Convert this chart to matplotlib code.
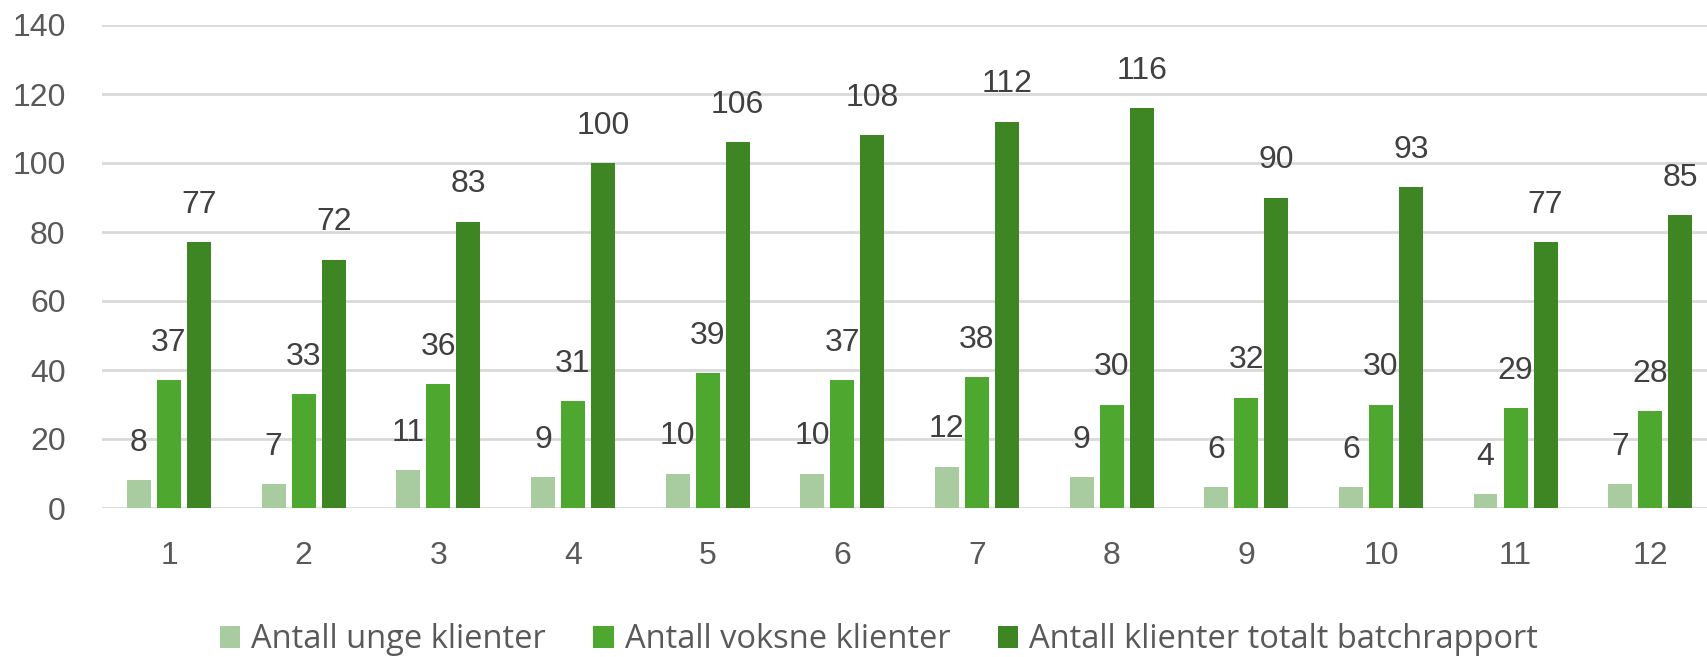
import numpy as np
import matplotlib.pyplot as plt
from matplotlib.patches import Patch

months = [str(i) for i in range(1, 13)]
unge = [8, 7, 11, 9, 10, 10, 12, 9, 6, 6, 4, 7]
voksne = [37, 33, 36, 31, 39, 37, 38, 30, 32, 30, 29, 28]
totalt = [77, 72, 83, 100, 106, 108, 112, 116, 90, 93, 77, 85]
series_names = ['Antall unge klienter', 'Antall voksne klienter',
                'Antall klienter totalt batchrapport']

LIGHT = '#A8CC9F'
MID = '#4EA72E'
DARK = '#3E8624'
GRID = '#D9D9D9'
TICK = '#595959'
LABEL = '#404040'

W, H, DPI = 1708, 657, 100
fig = plt.figure(figsize=(W / DPI, H / DPI), dpi=DPI)
plt.rcParams['font.family'] = ['Liberation Sans', 'DejaVu Sans']

left, right = 101.7, 1717.5
bottom, top = 508, 25
ax = fig.add_axes([left / W, (H - bottom) / H,
                   (right - left) / W, (bottom - top) / H])

x = np.arange(len(months))
width = 0.178
pitch = 0.223
colors = [LIGHT, MID, DARK]
for k, (vals, col) in enumerate(zip([unge, voksne, totalt], colors)):
    bars = ax.bar(x + (k - 1) * pitch, vals, width, color=col, zorder=3)
    ax.bar_label(bars, labels=[str(v) for v in vals], padding=16,
                 fontsize=23, color=LABEL)

ax.set_xlim(-0.5, len(months) - 0.5)
ax.set_ylim(0, 140)
ax.set_yticks(np.arange(0, 141, 20))
ax.set_xticks(x)
ax.set_xticklabels(months)
ax.grid(axis='y', color=GRID, linewidth=2, zorder=0)
for s in ax.spines.values():
    s.set_visible(False)
ax.tick_params(axis='both', length=0, labelsize=23, labelcolor=TICK)
ax.tick_params(axis='y', pad=26)
ax.tick_params(axis='x', pad=24)

handles = [Patch(facecolor=c, edgecolor='none') for c in colors]
fig.legend(handles, series_names, loc='center',
           bbox_to_anchor=(879 / W, (H - 640) / H), ncol=3, frameon=False,
           prop={'family': 'Open Sans', 'size': 23.5}, labelcolor=TICK,
           handlelength=0.62, handleheight=0.62, handletextpad=0.34,
           columnspacing=1.45)

fig.savefig('out.png', dpi=DPI)
